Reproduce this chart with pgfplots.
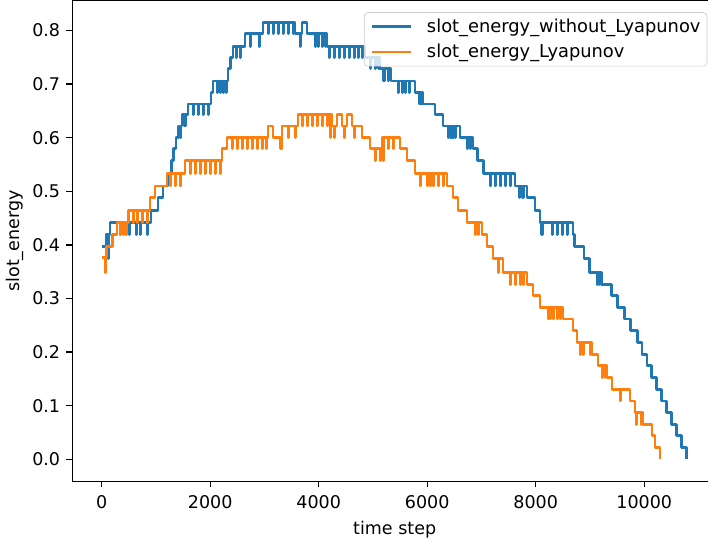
\documentclass[border=0pt]{standalone}
\usepackage{fontspec}
\setmainfont{DejaVu Sans}
\usepackage{pgfplots}
\usepackage{pgfplotstable}
\pgfplotsset{compat=1.18}
\definecolor{tabblue}{HTML}{1F77B4}
\definecolor{taborange}{HTML}{FF7F0E}

% slot energy per time step
\pgfplotstableread{
t e
0 0.397
79 0.419
116 0.375
126 0.419
153 0.442
337 0.419
347 0.442
503 0.419
513 0.442
632 0.419
642 0.442
706 0.419
716 0.442
835 0.419
845 0.442
909 0.465
1038 0.488
1130 0.510
1222 0.533
1280 0.557
1330 0.580
1370 0.601
1420 0.622
1450 0.601
1460 0.622
1480 0.643
1530 0.622
1540 0.643
1591 0.663
1683 0.643
1693 0.663
1775 0.643
1785 0.663
1867 0.643
1877 0.663
1959 0.643
1969 0.663
2014 0.685
2051 0.706
2125 0.685
2135 0.706
2180 0.685
2190 0.706
2235 0.685
2245 0.706
2290 0.685
2300 0.706
2328 0.729
2380 0.750
2420 0.771
2475 0.750
2485 0.771
2549 0.750
2559 0.771
2641 0.795
2733 0.771
2743 0.795
2899 0.771
2909 0.795
2973 0.815
3065 0.795
3075 0.815
3157 0.795
3167 0.815
3249 0.795
3259 0.815
3341 0.795
3351 0.815
3434 0.795
3444 0.815
3526 0.795
3536 0.815
3563 0.795
3655 0.771
3665 0.795
3692 0.815
3784 0.795
3932 0.771
3942 0.795
3987 0.771
3997 0.795
4061 0.771
4071 0.795
4120 0.771
4130 0.795
4153 0.771
4190 0.750
4200 0.771
4282 0.750
4292 0.771
4374 0.750
4384 0.771
4466 0.750
4476 0.771
4558 0.750
4568 0.771
4650 0.750
4660 0.771
4724 0.750
4734 0.771
4798 0.750
4808 0.771
4853 0.750
4950 0.729
4960 0.750
5037 0.729
5047 0.750
5100 0.729
5110 0.750
5129 0.729
5200 0.706
5210 0.729
5280 0.706
5290 0.729
5332 0.706
5461 0.685
5471 0.706
5535 0.685
5545 0.706
5590 0.685
5600 0.706
5664 0.685
5674 0.706
5774 0.685
5850 0.663
5860 0.685
5875 0.663
5885 0.685
5900 0.663
5910 0.685
5921 0.663
6143 0.643
6290 0.622
6382 0.601
6392 0.622
6430 0.601
6440 0.622
6470 0.601
6480 0.622
6511 0.601
6521 0.622
6604 0.601
6733 0.580
6743 0.601
6790 0.580
6800 0.601
6843 0.580
6930 0.557
7030 0.533
7156 0.510
7166 0.533
7249 0.510
7259 0.533
7341 0.510
7351 0.533
7433 0.510
7443 0.533
7525 0.510
7535 0.533
7617 0.510
7700 0.488
7710 0.510
7760 0.488
7770 0.510
7838 0.488
7986 0.465
8078 0.442
8110 0.419
8120 0.442
8299 0.419
8309 0.442
8392 0.419
8402 0.442
8484 0.419
8494 0.442
8576 0.419
8586 0.442
8687 0.419
8720 0.397
8890 0.375
8990 0.349
9129 0.327
9139 0.349
9170 0.327
9180 0.349
9215 0.327
9390 0.306
9510 0.284
9640 0.262
9750 0.240
9870 0.218
9960 0.196
10050 0.175
10140 0.153
10230 0.131
10320 0.109
10410 0.087
10500 0.065
10590 0.044
10680 0.022
10782 0.000
}\withoutlyap

\pgfplotstableread{
t e
0 0.376
60 0.349
70 0.376
90 0.397
200 0.419
280 0.442
337 0.419
347 0.442
393 0.419
403 0.442
440 0.419
450 0.442
500 0.465
577 0.442
587 0.465
651 0.442
661 0.465
743 0.442
753 0.465
835 0.442
845 0.465
890 0.488
980 0.510
1203 0.533
1259 0.510
1269 0.533
1351 0.510
1361 0.533
1443 0.510
1453 0.533
1535 0.557
1627 0.533
1637 0.557
1720 0.533
1730 0.557
1812 0.533
1822 0.557
1904 0.533
1914 0.557
1996 0.533
2006 0.557
2088 0.533
2098 0.557
2180 0.533
2190 0.557
2217 0.580
2309 0.601
2401 0.580
2411 0.601
2494 0.580
2504 0.601
2586 0.580
2596 0.601
2678 0.580
2688 0.601
2770 0.580
2780 0.601
2862 0.580
2872 0.601
2955 0.580
2965 0.601
3028 0.580
3038 0.601
3065 0.622
3157 0.601
3295 0.580
3323 0.622
3434 0.601
3444 0.622
3563 0.601
3573 0.622
3618 0.643
3692 0.622
3702 0.643
3784 0.622
3794 0.643
3876 0.622
3886 0.643
3968 0.622
3978 0.643
4061 0.622
4071 0.643
4153 0.622
4163 0.643
4210 0.601
4220 0.643
4245 0.622
4282 0.601
4292 0.622
4337 0.643
4429 0.622
4466 0.601
4476 0.622
4521 0.643
4614 0.622
4650 0.601
4660 0.622
4798 0.601
4945 0.580
5037 0.557
5047 0.580
5129 0.557
5139 0.580
5166 0.601
5184 0.557
5194 0.601
5276 0.580
5286 0.601
5369 0.580
5379 0.601
5498 0.580
5627 0.557
5774 0.533
5866 0.510
5876 0.533
5995 0.510
6005 0.533
6051 0.510
6061 0.533
6106 0.510
6116 0.533
6198 0.510
6208 0.533
6290 0.510
6300 0.533
6364 0.510
6475 0.488
6567 0.465
6733 0.442
6880 0.419
6890 0.442
6935 0.419
6945 0.442
7009 0.419
7101 0.397
7212 0.375
7304 0.349
7314 0.375
7396 0.349
7525 0.327
7535 0.349
7617 0.327
7627 0.349
7709 0.327
7719 0.349
7765 0.327
7775 0.349
7838 0.327
7949 0.306
8078 0.284
8225 0.262
8235 0.284
8262 0.262
8272 0.284
8318 0.262
8328 0.284
8392 0.262
8402 0.284
8447 0.262
8457 0.284
8502 0.262
8687 0.240
8760 0.218
8816 0.196
8826 0.218
8871 0.196
8881 0.218
9000 0.196
9010 0.218
9037 0.196
9147 0.175
9221 0.153
9231 0.175
9280 0.153
9290 0.175
9313 0.153
9405 0.131
9553 0.109
9563 0.131
9737 0.109
9829 0.087
9847 0.065
9857 0.087
9940 0.065
9950 0.087
9977 0.065
10142 0.044
10197 0.022
10290 0.000
}\withlyap

\begin{document}
\begin{tikzpicture}
\begin{axis}[
    scale only axis,
    width=368.3pt, height=274.6pt,
    xmin=-540, xmax=11340,
    ymin=-0.0408, ymax=0.8558,
    xtick={0,2000,4000,6000,8000,10000},
    ytick={0,0.1,0.2,0.3,0.4,0.5,0.6,0.7,0.8},
    scaled x ticks=false,
    xticklabel style={/pgf/number format/1000 sep={}, yshift=-1.2pt},
    yticklabel style={/pgf/number format/fixed, /pgf/number format/precision=1, /pgf/number format/fixed zerofill},
    /pgf/number format/assume math mode=true,
    font=\fontsize{10}{12}\selectfont,
    tick align=outside, tick pos=left,
    major tick length=3.5pt,
    every tick/.style={black, line width=0.8pt},
    axis line style={line width=0.8pt},
    xlabel={time step},
    ylabel={slot\_energy},
    xlabel style={at={(axis description cs:0.5,-0.1115)}, anchor=base},
    ylabel style={at={(axis description cs:-0.0899,0.5)}, anchor=center},
    legend style={at={(1,1)}, anchor=north east, xshift=-5.5pt, yshift=-6.6pt,
        draw=black!20, fill=white, fill opacity=0.8, draw opacity=1, text opacity=1,
        rounded corners=2pt, font=\fontsize{10.2}{12.2}\selectfont,
        cells={anchor=west}, inner xsep=3.7pt, inner ysep=2.2pt, row sep=2.9pt,
        nodes={inner xsep=0pt, inner ysep=1.2pt},
        /tikz/every odd column/.append style={column sep=8.6pt}},
    legend image code/.code={\draw[#1, line width=1.6pt] (0pt,0pt) -- (22pt,0pt);},
]
\addplot[const plot, tabblue, line width=1.6pt, line join=round] table[x=t, y=e] {\withoutlyap};
\addlegendentry{slot\_energy\_without\_Lyapunov}
\addplot[const plot, taborange, line width=1.6pt, line join=round] table[x=t, y=e] {\withlyap};
\addlegendentry{slot\_energy\_Lyapunov}
\end{axis}
\pgfresetboundingbox
\path (-41.4pt,-34.1pt) rectangle (363.2pt,275pt);
\end{tikzpicture}
\end{document}
